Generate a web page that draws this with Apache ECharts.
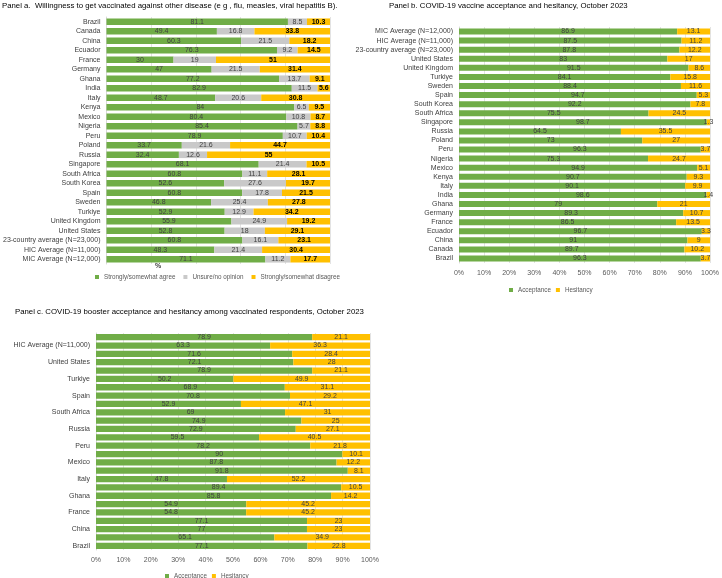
<!DOCTYPE html>
<html><head><meta charset="utf-8">
<script src="https://cdn.jsdelivr.net/npm/echarts@6/dist/echarts.min.js"></script>
<style>html,body{margin:0;padding:0;background:#fff}#c{width:722px;height:578px}</style>
</head><body><div id="c"></div>
<script>
const categories = ['Brazil','Canada','China','Ecuador','France','Germany','Ghana','India','Italy','Kenya','Mexico','Nigeria','Peru','Poland','Russia','Singapore','South Africa','South Korea','Spain','Sweden','Turkiye','United Kingdom','United States','23-country average (N=23,000)','HIC Average (N=11,000)','MIC Average (N=12,000)'];

// Panel a: other vaccines
const aAgree    = [81.1,49.4,60.3,76.3,30,47,77.2,82.9,48.7,84,80.4,85.4,78.9,33.7,32.4,68.1,60.8,52.6,60.8,46.8,52.9,55.9,52.8,60.8,48.3,71.1];
const aUnsure   = [8.5,16.8,21.5,9.2,19,21.5,13.7,11.5,20.6,6.5,10.8,5.7,10.7,21.6,12.6,21.4,11.1,27.6,17.8,25.4,12.9,24.9,18,16.1,21.4,11.2];
const aDisagree = [10.3,33.8,18.2,14.5,51,31.4,9.1,5.6,30.8,9.5,8.7,8.8,10.4,44.7,55,10.5,28.1,19.7,21.5,27.8,34.2,19.2,29.1,23.1,30.4,17.7];

// Panel b: COVID-19 vaccine
const bAccept   = [96.3,89.7,91,96.7,86.5,89.3,79,98.6,90.1,90.7,94.9,75.3,96.3,73,64.5,98.7,75.5,92.2,94.7,88.4,84.1,91.5,83,87.8,87.5,86.9];
const bHesitant = [3.7,10.2,9,3.3,13.5,10.7,21,1.4,9.9,9.3,5.1,24.7,3.7,27,35.5,1.3,24.5,7.8,5.3,11.6,15.8,8.6,17,12.2,11.2,13.1];

// Panel c: COVID-19 booster
const cAccept   = [77.1,65.1,77,77.1,54.8,54.9,85.8,89.4,47.8,91.8,87.8,90,78.2,59.5,72.9,74.9,69,52.9,70.8,68.9,50.2,78.9,72.1,71.6,63.3,78.9];
const cHesitant = [22.8,34.9,23,23,45.2,45.2,14.2,10.5,52.2,8.1,12.2,10.1,21.8,40.5,27.1,25,31,47.1,29.2,31.1,49.9,21.1,28,28.4,36.3,21.1];

const pctTicks = ['0%','10%','20%','30%','40%','50%','60%','70%','80%','90%','100%'];

const FONT = 'Liberation Sans';
const GREEN = '#70AD47', GRAY = '#C9C9C9', YELLOW = '#FFC000';

// 100%-stacked display (like the original chart): value shown as share of row total, label shows raw value
function pct(arrs, i) {
  return arrs[i].map((v, k) => {
    let s = 0; arrs.forEach(a => s += a[k]);
    return { value: v / s * 100, raw: v };
  });
}
function ser(name, arrs, i, color, xi, gap, lblColor, bold) {
  return {
    name, type: 'bar', stack: 's' + xi, xAxisIndex: xi, yAxisIndex: xi,
    data: pct(arrs, i), barCategoryGap: gap,
    itemStyle: { color },
    label: { show: true, position: 'inside', fontFamily: FONT, fontSize: 7,
      color: lblColor, fontWeight: bold ? 'bold' : 'normal',
      formatter: p => String(p.data.raw) },
    emphasis: { disabled: true }, animation: false
  };
}
function yCat(gi, inverse, interval) {
  return { type: 'category', gridIndex: gi, data: categories, inverse,
    axisTick: { show: false },
    axisLine: { show: true, lineStyle: { color: '#D9D9D9' } },
    axisLabel: { fontFamily: FONT, fontSize: 7, color: '#404040', margin: 6, interval } };
}
function xVal(gi, showLabels, interval) {
  return { type: 'value', gridIndex: gi, min: 0, max: 100, interval,
    splitLine: { show: true, lineStyle: { color: '#E3E3E3', width: 1 } },
    axisLine: { show: false }, axisTick: { show: false },
    axisLabel: { show: showLabels, fontFamily: FONT, fontSize: 7, color: '#595959', margin: 7,
      formatter: v => pctTicks[v / 10] } };
}
const legendText = { fontFamily: FONT, fontSize: 6.3, color: '#595959' };
const titleText = { fontFamily: FONT, fontSize: 7.8, fontWeight: 'normal', color: '#000' };
const chart = echarts.init(document.getElementById('c'), null, { renderer: 'canvas' });
chart.setOption({
  animation: false,
  title: [
    { text: 'Panel a.  Willingness to get vaccinated against other disease (e g , flu, measles, viral hepatitis B).', left: 2, top: 2, padding: 0, textStyle: titleText },
    { text: 'Panel b. COVID-19 vaccine acceptance and hesitancy, October 2023', left: 389, top: 2, padding: 0, textStyle: titleText },
    { text: 'Panel c. COVID-19 booster acceptance and hesitancy among vaccinated respondents, October 2023', left: 15, top: 308, padding: 0, textStyle: titleText }
  ],
  grid: [
    { left: 96, width: 234, top: 17, height: 247 },
    { left: 459, width: 255, top: 27, height: 236 },
    { left: 96, width: 274, top: 333, height: 217 }
  ],
  xAxis: [ xVal(0, false, 20), xVal(1, true, 10), xVal(2, true, 10) ],
  yAxis: [ yCat(0, true, 0), yCat(1, false, 0), yCat(2, false, 1) ],
  legend: [
    { data: ['Strongly/somewhat agree','Unsure/no opinion','Strongly/somewhat disagree'], left: 90, top: 269,
      icon: 'rect', itemWidth: 4, itemHeight: 4, itemGap: 8, textStyle: legendText, selectedMode: false },
    { data: ['Acceptance','Hesitancy'], left: 504, top: 282, icon: 'rect', itemWidth: 4, itemHeight: 4, itemGap: 5,
      textStyle: legendText, selectedMode: false },
    { data: ['Acceptance','Hesitancy'], left: 160, top: 568, icon: 'rect', itemWidth: 4, itemHeight: 4, itemGap: 5,
      textStyle: legendText, selectedMode: false }
  ],
  graphic: [
    { type: 'text', left: 155, top: 263, style: { text: '%', font: 'bold 7px ' + FONT, fill: '#404040' } }
  ],
  series: [
    ser('Strongly/somewhat agree', [aAgree,aUnsure,aDisagree], 0, GREEN, 0, '30%', '#404040', false),
    ser('Unsure/no opinion', [aAgree,aUnsure,aDisagree], 1, GRAY, 0, '30%', '#404040', false),
    ser('Strongly/somewhat disagree', [aAgree,aUnsure,aDisagree], 2, YELLOW, 0, '30%', '#000', true),
    ser('Acceptance', [bAccept,bHesitant], 0, GREEN, 1, '34%', '#404040', false),
    ser('Hesitancy', [bAccept,bHesitant], 1, YELLOW, 1, '34%', '#404040', false),
    ser('Acceptance', [cAccept,cHesitant], 0, GREEN, 2, '25%', '#404040', false),
    ser('Hesitancy', [cAccept,cHesitant], 1, YELLOW, 2, '25%', '#404040', false)
  ]
});
</script></body></html>
